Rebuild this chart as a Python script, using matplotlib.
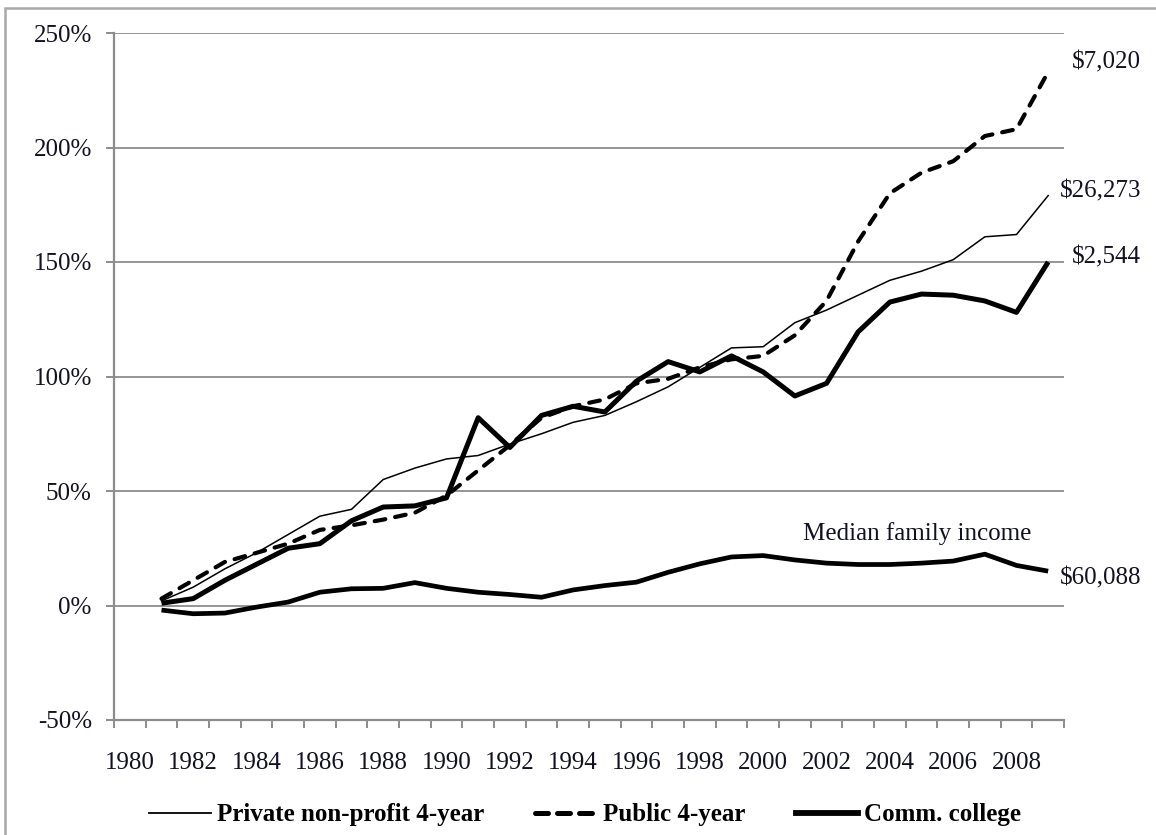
import matplotlib
matplotlib.use("Agg")
import matplotlib.pyplot as plt
import matplotlib.transforms as mtransforms
from matplotlib.patches import Rectangle
from matplotlib.lines import Line2D

# === Data ===
years = list(range(1981, 2010))

private_4yr = [2, 8, 16, 23, 31, 39, 42, 55, 60, 64,
               65.5, 70.5, 75, 80, 83, 89, 95.5, 104, 112.5, 113,
               123.5, 129, 135.5, 142, 146, 151, 161, 162, 179]

public_4yr = [3, 11, 19, 23, 27, 33, 35, 37.5, 40.5, 48,
              59, 70, 82, 87, 90, 97, 99, 104, 107.5, 109,
              118, 133, 159, 180, 189, 194, 205, 208, 233]

comm_college = [1, 3, 11, 18, 25, 27, 37, 43, 43.5, 47,
                82, 69, 83, 87, 84.5, 98, 106.5, 102, 109, 102,
                91.5, 97, 119.5, 132.5, 136, 135.5, 133, 128, 150]

median_income = [-2, -3.6, -3.3, -0.7, 1.5, 5.8, 7.3, 7.5, 10, 7.5,
                 5.8, 4.8, 3.6, 6.8, 8.7, 10.2, 14.5, 18.2, 21.2, 21.8,
                 19.9, 18.5, 17.9, 17.9, 18.5, 19.4, 22.4, 17.5, 15]

end_labels = ["$7,020", "$26,273", "$2,544", "$60,088"]
end_label_y = [237, 181, 152, 12]
legend_names = ["Private non-profit 4-year", "Public 4-year", "Comm. college"]
y_ticks = [-50, 0, 50, 100, 150, 200, 250]
x_label_years = list(range(1980, 2010, 2))

# === Style ===
W, H = 1156, 835
GRID = "#8c8c8c"
TXT = "#111122"
FS = 18
plt.rcParams["font.family"] = ["Liberation Serif", "DejaVu Serif"]

fig = plt.figure(figsize=(W / 100, H / 100), dpi=100)
ax = fig.add_axes([114 / W, 1 - 720 / H, (1064 - 114) / W, (720 - 33) / H])

# outer frame (only left and top edges visible in the picture)
fig.add_artist(Rectangle((5 / W, -0.05), 1.2, 1 - 8 / H + 0.05,
                         transform=fig.transFigure, fill=False,
                         edgecolor="#a8a8a8", linewidth=1.8))

# === Lines ===
ax.plot(years, private_4yr, color="black", lw=1.1)
ax.plot(years, public_4yr, color="black", lw=3.0, dashes=(2.6, 2.4),
        dash_capstyle="round")
ax.plot(years, comm_college, color="black", lw=3.6, solid_capstyle="butt")
ax.plot(years, median_income, color="black", lw=3.4, solid_capstyle="butt")

# === Axes ===
ax.set_xlim(1979.5, 2009.5)
ax.set_ylim(-50, 250)
ax.set_yticks(y_ticks)
ax.set_yticklabels([f"{v}%" for v in y_ticks])
ax.set_xticks([y - 0.5 for y in range(1980, 2011)])
ax.set_xticklabels([])
ax.set_xticks(x_label_years, minor=True)
ax.set_xticklabels([str(y) for y in x_label_years], minor=True)

for s in ["top", "right"]:
    ax.spines[s].set_visible(False)
for s in ["left", "bottom"]:
    ax.spines[s].set_color(GRID)
    ax.spines[s].set_linewidth(1.6)

ax.tick_params(axis="y", direction="out", length=6, width=1.4, color=GRID,
               labelsize=FS, labelcolor=TXT, pad=10)
ax.tick_params(axis="x", which="major", direction="out", length=6, width=1.4,
               color=GRID)
ax.tick_params(axis="x", which="minor", length=0, labelsize=FS,
               labelcolor=TXT, pad=23)

for v in y_ticks[1:]:
    ax.axhline(v, color=GRID, lw=1.3, zorder=0)

# === Labels ===
# right-aligned at a fixed x in figure space, y in data space
lab_trans = mtransforms.blended_transform_factory(fig.transFigure, ax.transData)
for txt, yv in zip(end_labels, end_label_y):
    ax.text(1141 / W, yv, txt, ha="right", va="center", fontsize=FS,
            color=TXT, transform=lab_trans, clip_on=False)

ax.text(2004.85, 31.5, "Median family income", ha="center", va="center",
        fontsize=FS, color=TXT)

# === Legend ===
handles = [
    Line2D([], [], color="black", lw=1.3),
    Line2D([], [], color="black", lw=3.6, dashes=(2.6, 1.8), dash_capstyle="round"),
    Line2D([], [], color="black", lw=4.2),
]
fig.legend(handles, legend_names, loc="center", bbox_to_anchor=(585 / W, 1 - 815 / H),
           ncol=3, frameon=False, handlelength=2.5, handletextpad=0.25,
           columnspacing=2.0, prop={"weight": "bold", "size": FS})

plt.savefig("out.png", dpi=100)
